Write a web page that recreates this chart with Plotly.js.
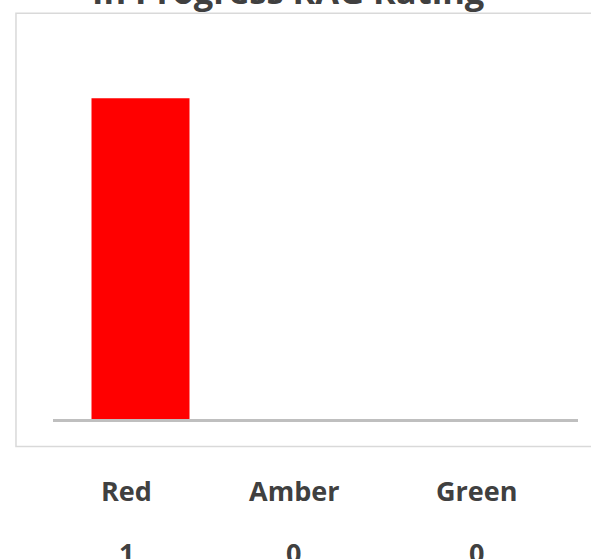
<!DOCTYPE html>
<html>
<head>
<meta charset="utf-8">
<script src="https://cdn.plot.ly/plotly-3.0.1.min.js"></script>
<style>
  html, body { margin: 0; padding: 0; background: #ffffff; }
  #chart { width: 591px; height: 559px; }
</style>
</head>
<body>
<div id="chart"></div>
<script>
// RAG status counts for in-progress items
const categories = ['Red', 'Amber', 'Green'];
const counts = [1, 0, 0];
const barColors = ['#ff0000', '#ffc000', '#00b050'];
const chartTitle = 'In Progress RAG Rating';

// horizontal nudge (px) of the label table columns relative to the bars
const columnShift = [-14, -22, -14];

const textColor = '#404040';
const fontFamily = '"Open Sans", "Noto Sans", sans-serif';

const annotations = [];
categories.forEach((cat, i) => {
  // category name row
  annotations.push({
    x: cat, xref: 'x', y: -0.185, yref: 'paper',
    xanchor: 'center', yanchor: 'middle', xshift: columnShift[i],
    text: '<b>' + cat + '</b>', showarrow: false,
    font: { family: fontFamily, size: 27, color: textColor }
  });
  // count row
  annotations.push({
    x: cat, xref: 'x', y: -0.346, yref: 'paper',
    xanchor: 'center', yanchor: 'middle', xshift: columnShift[i],
    text: '<b>' + counts[i] + '</b>', showarrow: false,
    font: { family: fontFamily, size: 27, color: textColor }
  });
});

// chart title, sitting mostly above the top edge of the page
annotations.push({
  x: 0.448, xref: 'paper', y: 1.113, yref: 'paper',
  xanchor: 'center', yanchor: 'middle',
  text: '<b>' + chartTitle + '</b>', showarrow: false,
  font: { family: fontFamily, size: 34.5, color: textColor }
});

const trace = {
  type: 'bar',
  x: categories,
  y: counts,
  marker: { color: barColors, line: { width: 0 } },
  hoverinfo: 'x+y'
};

const layout = {
  width: 591,
  height: 559,
  margin: { l: 53, r: 13, t: 33.7, b: 139.5, pad: 0 },
  paper_bgcolor: '#ffffff',
  plot_bgcolor: '#ffffff',
  showlegend: false,
  bargap: 0.44,
  xaxis: {
    type: 'category',
    showticklabels: false,
    showgrid: false,
    zeroline: false,
    showline: true,
    linecolor: '#bfbfbf',
    linewidth: 2.5,
    ticks: ''
  },
  yaxis: {
    range: [0, 1.2],
    showticklabels: false,
    showgrid: false,
    zeroline: false,
    showline: false,
    ticks: ''
  },
  shapes: [{
    // chart frame
    type: 'rect', xref: 'paper', yref: 'paper',
    x0: -0.0705, x1: 1.1, y0: -0.0713, y1: 1.0537,
    line: { color: '#d9d9d9', width: 1.5 },
    fillcolor: 'rgba(0,0,0,0)',
    layer: 'below'
  }],
  annotations: annotations
};

Plotly.newPlot('chart', [trace], layout, { displayModeBar: false, staticPlot: true });
</script>
</body>
</html>
